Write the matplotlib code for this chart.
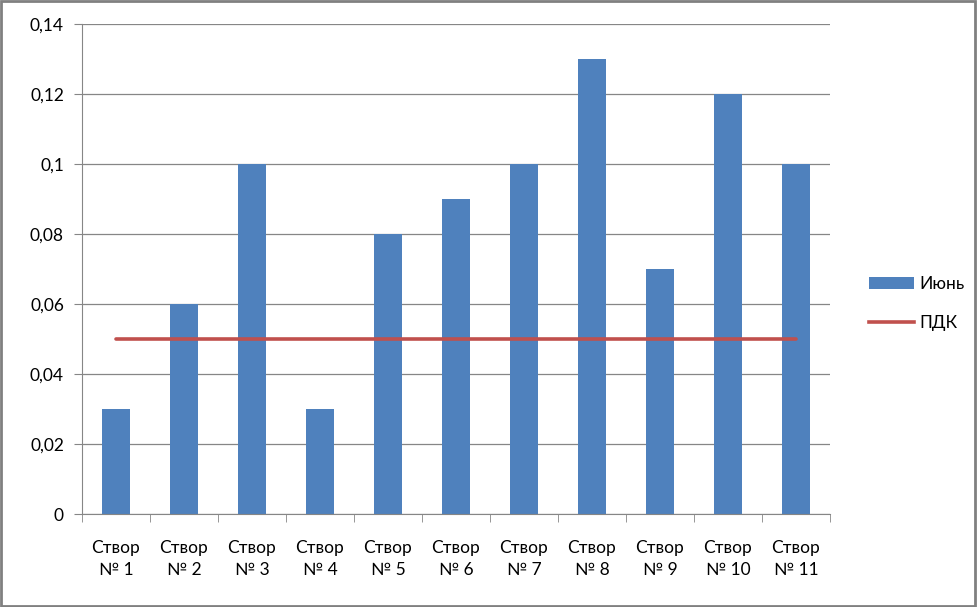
import matplotlib
matplotlib.use('Agg')
import matplotlib.pyplot as plt
import numpy as np
from matplotlib.patches import Rectangle, Patch
from matplotlib.lines import Line2D

plt.rcParams['font.family'] = ['Lato', 'DejaVu Sans']

labels = ['Створ\n№ 1', 'Створ\n№ 2', 'Створ\n№ 3', 'Створ\n№ 4', 'Створ\n№ 5', 'Створ\n№ 6',
          'Створ\n№ 7', 'Створ\n№ 8', 'Створ\n№ 9', 'Створ\n№ 10', 'Створ\n№ 11']
june = [0.03, 0.06, 0.10, 0.03, 0.08, 0.09, 0.10, 0.13, 0.07, 0.12, 0.10]
pdk = [0.05] * 11
yticks = [0, 0.02, 0.04, 0.06, 0.08, 0.1, 0.12, 0.14]
ytick_labels = ['0', '0,02', '0,04', '0,06', '0,08', '0,1', '0,12', '0,14']

blue = '#4F81BD'
red = '#C0504D'
grid = '#868686'

fig = plt.figure(figsize=(9.77, 6.07), dpi=100)
ax = fig.add_axes([0.0839, 0.1532, 0.7656, 0.8073])

x = np.arange(len(june))
ax.bar(x, june, width=0.4, color=blue, zorder=2)
ax.plot(x, pdk, color=red, linewidth=2.6, zorder=3, solid_capstyle='round')

ax.set_xlim(-0.5, len(june) - 0.5)
ax.set_ylim(0, 0.14)
ax.set_yticks(yticks)
ax.set_yticklabels(ytick_labels)
ax.set_xticks(x)
ax.set_xticklabels(labels, linespacing=1.45)
ax.set_xticks(np.arange(-0.5, len(june)), minor=True)
ax.tick_params(axis='x', which='major', length=0, pad=19, labelsize=12.5)
ax.tick_params(axis='x', which='minor', length=6, color=grid, direction='out')
ax.tick_params(axis='y', length=6, color=grid, labelsize=12.5, pad=7)
ax.yaxis.grid(True, color=grid, linewidth=0.9, zorder=0)
for s in ['top', 'right']:
    ax.spines[s].set_visible(False)
ax.spines['left'].set_color(grid)
ax.spines['bottom'].set_color(grid)

handles = [Patch(facecolor=blue, label='Июнь'),
           Line2D([0], [0], color=red, linewidth=2.6, label='ПДК')]
fig.legend(handles=handles, loc='center left', bbox_to_anchor=(0.873, 0.5),
           frameon=False, fontsize=12.5, handlelength=2.6, labelspacing=1.3,
           handletextpad=0.35)

fig.patches.append(Rectangle((0.001, 0.002), 0.997, 0.996, transform=fig.transFigure,
                             fill=False, edgecolor='#808080', linewidth=2))

fig.savefig('out.png', dpi=100)
